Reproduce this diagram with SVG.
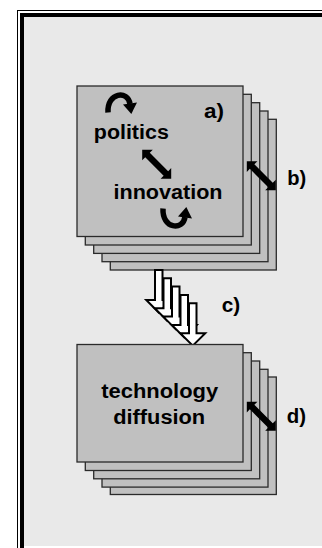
<svg xmlns="http://www.w3.org/2000/svg" width="322" height="548" viewBox="0 0 322 548">
<style>
.card{fill:#c0c0c0;stroke:#2a2a2a;stroke-width:1.3}
.lbl{font-family:"Liberation Sans",Arial,sans-serif;font-weight:bold;font-size:20px;fill:#000}
.blk{fill:#000}
.fat{fill:#fff;stroke:#000;stroke-width:2;stroke-linejoin:miter}
.curve{fill:none;stroke:#000;stroke-width:5.5}
</style>
<defs>
<path id="dbl" d="M-20.5,0 L-13,-7.5 L-13,-3.2 L13,-3.2 L13,-7.5 L20.5,0 L13,7.5 L13,3.2 L-13,3.2 L-13,7.5 Z"/>
<g id="curl">
<path d="M108,112.5 C107,92 128,90 130,104" class="curve"/>
<polygon points="123,104.5 137,102.6 131.3,114" class="blk"/>
</g>
<polygon id="fatarrow" points="155,270 162.5,270 162.5,300 171.25,300 158.75,312.5 146.25,300 155,300"/>
</defs>
<rect x="0" y="0" width="322" height="548" fill="#fff"/>
<g id="frame">
<rect x="24" y="17" width="298" height="529" fill="#e9e9e9"/>
<rect x="17" y="10" width="305" height="1" fill="#000"/>
<rect x="17" y="10" width="1" height="538" fill="#000"/>
<rect x="20" y="13" width="302" height="4" fill="#000"/>
<rect x="20" y="13" width="4" height="535" fill="#000"/>
</g>
<g id="stack-top">
<rect class="card" x="110.3" y="119.3" width="166" height="150.7"/>
<rect class="card" x="102" y="111" width="166" height="150.7"/>
<rect class="card" x="93.7" y="102.7" width="166" height="150.7"/>
<rect class="card" x="85.3" y="94.3" width="166" height="150.7"/>
<rect class="card" x="77" y="86" width="166" height="150.5"/>
<text class="lbl" x="131.3" y="139.3" text-anchor="middle" textLength="75" lengthAdjust="spacingAndGlyphs">politics</text>
<text class="lbl" x="168" y="199.3" text-anchor="middle" textLength="109" lengthAdjust="spacingAndGlyphs">innovation</text>
<text class="lbl" x="204" y="118.3" textLength="20" lengthAdjust="spacingAndGlyphs">a)</text>
<use href="#curl"/>
<use href="#curl" transform="translate(55,321) scale(1,-1)"/>
<use href="#dbl" class="blk" transform="translate(156.7,164.2) rotate(45)"/>
</g>
<g id="connectors">
<use href="#dbl" class="blk" transform="translate(261.3,175.8) rotate(45)"/>
<text class="lbl" x="287.3" y="185" textLength="19" lengthAdjust="spacingAndGlyphs">b)</text>
<g id="arrow-c">
<use href="#fatarrow" class="fat"/>
<use href="#fatarrow" class="fat" transform="translate(8.5,8.3)"/>
<use href="#fatarrow" class="fat" transform="translate(17,16.6)"/>
<use href="#fatarrow" class="fat" transform="translate(25.5,24.9)"/>
<use href="#fatarrow" class="fat" transform="translate(34,33.2)"/>
</g>
<text class="lbl" x="221.7" y="311.7" textLength="18.5" lengthAdjust="spacingAndGlyphs">c)</text>
</g>
<g id="stack-bottom">
<rect class="card" x="110.3" y="377" width="166" height="117.5"/>
<rect class="card" x="102" y="369.3" width="166" height="117.8"/>
<rect class="card" x="93.7" y="361" width="166" height="117.8"/>
<rect class="card" x="85.3" y="352.7" width="166" height="117.8"/>
<rect class="card" x="77" y="344.5" width="166" height="117.5"/>
<text class="lbl" x="159.7" y="398.3" text-anchor="middle" textLength="117" lengthAdjust="spacingAndGlyphs">technology</text>
<text class="lbl" x="159.2" y="424.3" text-anchor="middle" textLength="92" lengthAdjust="spacingAndGlyphs">diffusion</text>
<use href="#dbl" class="blk" transform="translate(261.3,416.3) rotate(45)"/>
<text class="lbl" x="286.7" y="423.3" textLength="19.3" lengthAdjust="spacingAndGlyphs">d)</text>
</g>
</svg>
